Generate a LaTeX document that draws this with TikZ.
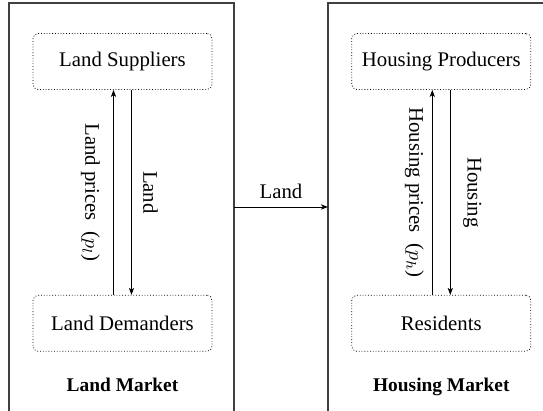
\documentclass[tikz,border=0pt]{standalone}
\usepackage{fontspec}
\setmainfont{Liberation Serif}
\usepackage{tikz}
\usetikzlibrary{arrows.meta}
\usetikzlibrary{positioning}

\tikzset{
  agent/.style={draw, densely dotted, rounded corners=2.5pt,
    minimum width=89.5pt, minimum height=28pt},
  market/.style={font=\fontsize{9.7}{12}\selectfont\bfseries},
  flow/.style={-{Stealth[length=3.5pt,width=2.6pt,inset=0.9pt]}, line width=0.45pt},
  vlabel/.style={rotate=-90},
  frame/.style={line width=0.55pt, black!75},
}

\begin{document}
\begin{tikzpicture}[x=0.5pt, y=-0.5pt, font=\fontsize{10.4}{12}\selectfont]
        \useasboundingbox (0,0) rectangle (543,411);

        % market frames, open at the bottom
        \draw[frame] (9,411) -- (9,3) -- (234,3) -- (234,411);
        \draw[frame] (328,411) -- (328,3) -- (543,3);

        \node[agent] (sup) at (122.5,61.5) {Land Suppliers};
        \node[agent, below=102.5pt of sup] (dem) {Land Demanders};
        \node[agent, right=69.5pt of sup] (prod) {Housing Producers};
        \node[agent, below=102.5pt of prod] (res) {Residents};

        \node[market, below=9.5pt of dem] (lm) {Land Market};
        \node[market, below=9.5pt of res] (hm) {Housing Market};

        \coordinate (lmR) at (234,207);
        \coordinate (hmL) at (328,207);

        \draw[flow] ([xshift=-4.5pt]dem.north) -- node[xshift=-11.5pt, vlabel] {Land prices\ \ ($p_l$)} ([xshift=-4.5pt]sup.south);
        \draw[flow] ([xshift=4.5pt]sup.south) -- node[xshift=9.5pt, vlabel] {Land} ([xshift=4.5pt]dem.north);
        \draw[flow] ([xshift=-4.5pt]res.north) -- node[xshift=-9pt, vlabel] {Housing prices\ \ ($p_h$)} ([xshift=-4.5pt]prod.south);
        \draw[flow] ([xshift=4.5pt]prod.south) -- node[xshift=11pt, vlabel] {Housing} ([xshift=4.5pt]res.north);

        \draw[flow] (lmR) -- node[above=0.5pt] {Land} (hmL);
\end{tikzpicture}
\end{document}
